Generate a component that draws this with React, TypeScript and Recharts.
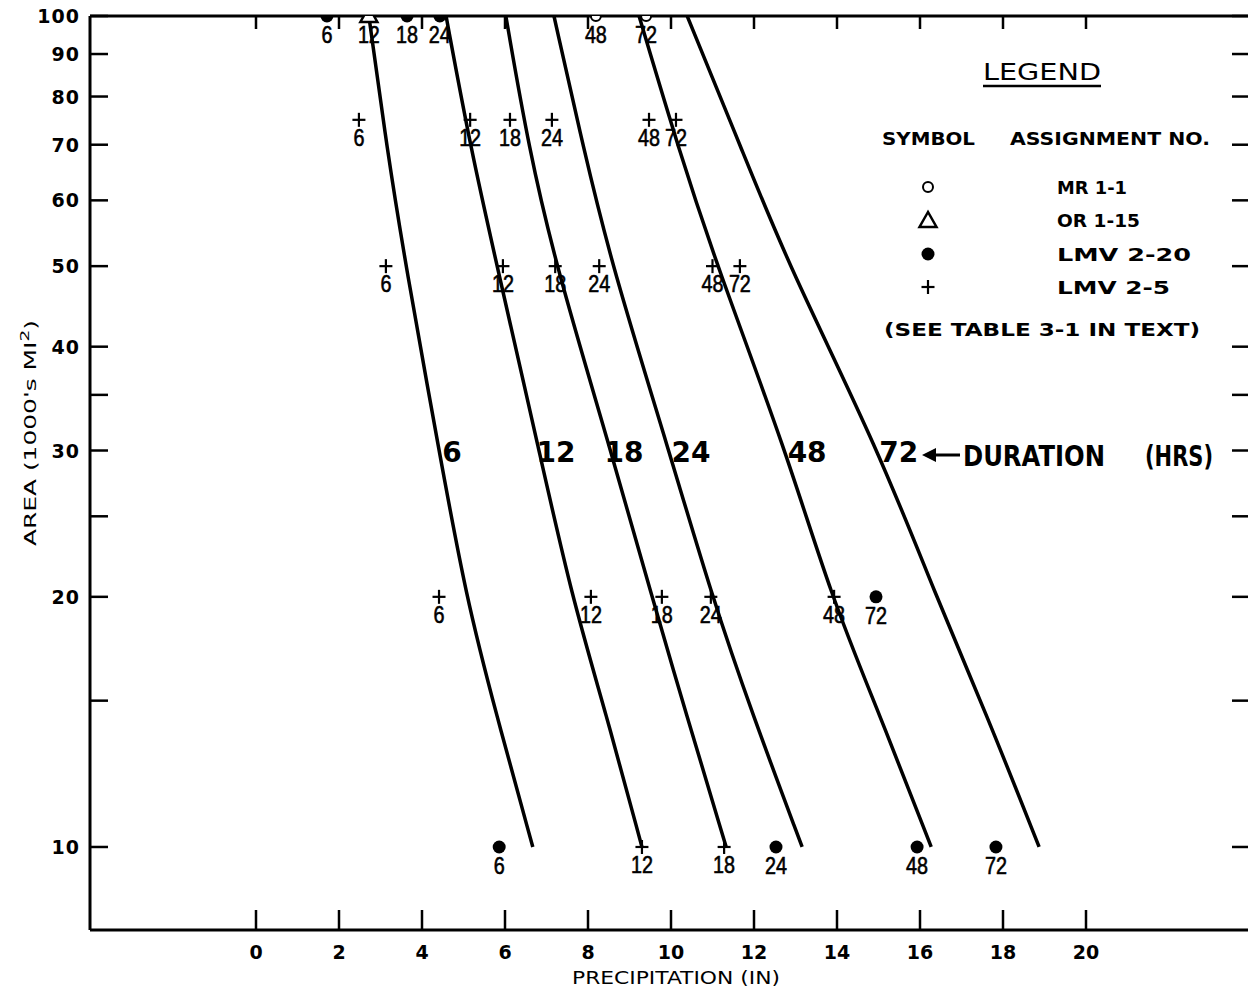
import React from 'react';
import { ComposedChart, Line, Scatter, XAxis, YAxis } from 'recharts';

const FONT = '"DejaVu Sans", Verdana, sans-serif';
const NARROW = '"Liberation Sans", Arial, sans-serif';

// depth-area curves, read at these areas (1000's sq mi)
const curveAreas = [100, 69, 50, 30, 20, 14.5, 10];
const curve6 = [2.72, 3.16, 3.61, 4.41, 5.06, 5.78, 6.67];
const curve12 = [4.58, 5.18, 5.81, 6.82, 7.61, 8.43, 9.3];
const curve18 = [6.02, 6.58, 7.23, 8.55, 9.54, 10.36, 11.33];
const curve24 = [7.18, 7.9, 8.58, 9.95, 10.99, 11.95, 13.16];
const curve48 = [9.23, 10.19, 11.11, 12.77, 13.86, 15.01, 16.27];
const curve72 = [10.39, 11.71, 12.84, 15.01, 16.39, 17.59, 18.87];
const curves = [curve6, curve12, curve18, curve24, curve48, curve72];

// duration labels sit on the 30,000 sq mi line
const durations = ['6', '12', '18', '24', '48', '72'];
const durationLabelArea = 30;
const durationLabelX = [4.72, 7.23, 8.87, 10.48, 13.28, 15.49];

// observed storms
const mrArea = [100, 100];
const mrPrecip = [8.19, 9.4];
const mrLabels = ['48', '72'];

const orArea = [100];
const orPrecip = [2.72];
const orLabels = ['12'];

const lmv20Area = [100, 100, 100, 20, 10, 10, 10, 10];
const lmv20Precip = [1.71, 3.64, 4.43, 14.94, 5.86, 12.53, 15.93, 17.83];
const lmv20Labels = ['6', '18', '24', '72', '6', '24', '48', '72'];

const lmv5Area = [75, 75, 75, 75, 75, 75, 50, 50, 50, 50, 50, 50, 20, 20, 20, 20, 20, 10, 10];
const lmv5Precip = [2.48, 5.16, 6.12, 7.13, 9.47, 10.12, 3.13, 5.95, 7.21, 8.27, 11.0, 11.66, 4.41, 8.07, 9.78, 10.96, 13.93, 9.3, 11.28];
const lmv5Labels = ['6', '12', '18', '24', '48', '72', '6', '12', '18', '24', '48', '72', '6', '12', '18', '24', '48', '12', '18'];

const xTicks = [0, 2, 4, 6, 8, 10, 12, 14, 16, 18, 20];
const yTicks = [10, 15, 20, 25, 30, 35, 40, 50, 60, 70, 80, 90, 100];
const yLabelled = [10, 20, 30, 40, 50, 60, 70, 80, 90, 100];

const toPoints = (areas: number[], precip: number[], labels?: string[]) =>
  areas.map((a, i) => ({ x: precip[i], y: a, label: labels ? labels[i] : '' }));

const BottomTick = (props: any) => {
  const { x, y, payload } = props;
  return (
    <g>
      <line x1={x} x2={x} y1={y} y2={y - 20} stroke="#000" strokeWidth={2.5} />
      <text x={x} y={y + 29} textAnchor="middle" fontSize={19} fontWeight="bold" fontFamily={FONT} fill="#000">
        {payload.value}
      </text>
    </g>
  );
};

const TopTick = (props: any) => {
  const { x, y } = props;
  return <line x1={x} x2={x} y1={y} y2={y + 13} stroke="#000" strokeWidth={2.5} />;
};

const LeftTick = (props: any) => {
  const { x, y, payload } = props;
  return (
    <g>
      <line x1={x} x2={x + 18} y1={y} y2={y} stroke="#000" strokeWidth={2.5} />
      {yLabelled.includes(payload.value) && (
        <text
          x={x - 10}
          y={y + 7}
          textAnchor="end"
          fontSize={19}
          fontWeight="bold"
          letterSpacing={1}
          fontFamily={FONT}
          fill="#000"
        >
          {payload.value}
        </text>
      )}
    </g>
  );
};

const RightTick = (props: any) => {
  const { x, y } = props;
  return <line x1={x} x2={x - 20} y1={y} y2={y} stroke="#000" strokeWidth={2.5} />;
};

const pointLabel = (cx: number, cy: number, label: string) => (
  <text
    x={cx}
    y={cy + 27}
    textAnchor="middle"
    fontSize={23}
    fontFamily={NARROW}
    stroke="#000"
    strokeWidth={0.6}
    textLength={label.length * 11}
    lengthAdjust="spacingAndGlyphs"
    fill="#000"
  >
    {label}
  </text>
);

const OpenCircle = (props: any) => {
  const { cx, cy, payload } = props;
  return (
    <g>
      <circle cx={cx} cy={cy} r={5} fill="#fff" stroke="#000" strokeWidth={2} />
      {pointLabel(cx, cy, payload.label)}
    </g>
  );
};

const Triangle = (props: any) => {
  const { cx, cy, payload } = props;
  return (
    <g>
      <polygon
        points={`${cx},${cy - 9} ${cx - 8.5},${cy + 6} ${cx + 8.5},${cy + 6}`}
        fill="#fff"
        stroke="#000"
        strokeWidth={2.5}
      />
      {pointLabel(cx, cy, payload.label)}
    </g>
  );
};

const Dot = (props: any) => {
  const { cx, cy, payload } = props;
  return (
    <g>
      <circle cx={cx} cy={cy} r={6.5} fill="#000" />
      {pointLabel(cx, cy, payload.label)}
    </g>
  );
};

const Plus = (props: any) => {
  const { cx, cy, payload } = props;
  return (
    <g>
      <line x1={cx - 6.5} x2={cx + 6.5} y1={cy} y2={cy} stroke="#000" strokeWidth={2.2} />
      <line x1={cx} x2={cx} y1={cy - 7} y2={cy + 7} stroke="#000" strokeWidth={2.2} />
      {pointLabel(cx, cy - 1, payload.label)}
    </g>
  );
};

const DurationText = (props: any) => {
  const { cx, cy, payload } = props;
  return (
    <text x={cx} y={cy + 11} textAnchor="middle" fontSize={28} fontWeight="bold" fontFamily={FONT} fill="#000">
      {payload.label}
    </text>
  );
};

const Overlay = () => (
  <svg
    width={1248}
    height={992}
    style={{ position: 'absolute', left: 0, top: 0, pointerEvents: 'none' }}
    fontFamily={FONT}
    fill="#000"
  >
    {/* axis titles */}
    <text
      transform="translate(36,433) rotate(-90)"
      textAnchor="middle"
      fontSize={16}
      textLength={226}
      lengthAdjust="spacingAndGlyphs"
    >
      AREA (1000's MI<tspan dy={-7} fontSize={12}>2</tspan>
      <tspan dy={7}>)</tspan>
    </text>
    <text x={676} y={984} textAnchor="middle" fontSize={17} textLength={208} lengthAdjust="spacingAndGlyphs">
      PRECIPITATION (IN)
    </text>

    {/* legend */}
    <g fontWeight="bold">
      <text x={1042} y={80} textAnchor="middle" fontSize={23} fontWeight="normal" textLength={118} lengthAdjust="spacingAndGlyphs">
        LEGEND
      </text>
      <line x1={983} x2={1101} y1={86} y2={86} stroke="#000" strokeWidth={2.5} />
      <text x={882} y={145} fontSize={18} textLength={93} lengthAdjust="spacingAndGlyphs">SYMBOL</text>
      <text x={1010} y={145} fontSize={18} textLength={200} lengthAdjust="spacingAndGlyphs">ASSIGNMENT NO.</text>

      <circle cx={928} cy={187} r={5} fill="#fff" stroke="#000" strokeWidth={2} />
      <polygon points="928,212 919.5,227 936.5,227" fill="#fff" stroke="#000" strokeWidth={2.5} />
      <circle cx={928} cy={254} r={6.5} />
      <line x1={921.5} x2={934.5} y1={287} y2={287} stroke="#000" strokeWidth={2.2} />
      <line x1={928} x2={928} y1={280} y2={294} stroke="#000" strokeWidth={2.2} />

      <text x={1057} y={194} fontSize={18} textLength={70} lengthAdjust="spacingAndGlyphs">MR 1-1</text>
      <text x={1057} y={227} fontSize={18} textLength={83} lengthAdjust="spacingAndGlyphs">OR 1-15</text>
      <text x={1057} y={261} fontSize={18} textLength={134} lengthAdjust="spacingAndGlyphs">LMV 2-20</text>
      <text x={1057} y={294} fontSize={18} textLength={113} lengthAdjust="spacingAndGlyphs">LMV 2-5</text>
      <text x={884} y={336} fontSize={18} textLength={316} lengthAdjust="spacingAndGlyphs">
        (SEE TABLE 3-1 IN TEXT)
      </text>
    </g>

    {/* duration pointer */}
    <line x1={932} x2={960} y1={455} y2={455} stroke="#000" strokeWidth={3} />
    <polygon points="922,455 936,448 936,462" />
    <text x={963} y={466} fontSize={28} fontWeight="bold" textLength={142} lengthAdjust="spacingAndGlyphs">
      DURATION
    </text>
    <text x={1145} y={466} fontSize={28} fontWeight="bold" textLength={68} lengthAdjust="spacingAndGlyphs">
      (HRS)
    </text>
  </svg>
);

export default function App() {
  const durationPoints = durationLabelX.map((x, i) => ({ x, y: durationLabelArea, label: durations[i] }));

  return (
    <div
      style={{
        position: 'fixed',
        left: 0,
        top: 0,
        width: 1248,
        height: 992,
        overflow: 'hidden',
        background: '#fff',
      }}
    >
      <ComposedChart width={1269} height={992} margin={{ top: 0, right: 0, bottom: 0, left: 0 }}>
        <XAxis
          dataKey="x"
          type="number"
          domain={[-4, 24]}
          ticks={xTicks}
          interval={0}
          height={62}
          tickSize={0}
          tickMargin={0}
          tickLine={false}
          tick={<BottomTick />}
          axisLine={{ stroke: '#000', strokeWidth: 3 }}
          allowDataOverflow
        />
        <XAxis
          xAxisId="top"
          orientation="top"
          dataKey="x"
          type="number"
          domain={[-4, 24]}
          ticks={xTicks}
          interval={0}
          height={16}
          tickSize={0}
          tickMargin={0}
          tickLine={false}
          tick={<TopTick />}
          axisLine={{ stroke: '#000', strokeWidth: 3 }}
          allowDataOverflow
        />
        <YAxis
          dataKey="y"
          type="number"
          scale="log"
          domain={[7.945, 100]}
          ticks={yTicks}
          interval={0}
          width={90}
          tickSize={0}
          tickMargin={0}
          tickLine={false}
          tick={<LeftTick />}
          axisLine={{ stroke: '#000', strokeWidth: 3 }}
          allowDataOverflow
        />
        <YAxis
          yAxisId="right"
          orientation="right"
          dataKey="y"
          type="number"
          scale="log"
          domain={[7.945, 100]}
          ticks={yTicks}
          interval={0}
          width={17}
          tickSize={0}
          tickMargin={0}
          tickLine={false}
          tick={<RightTick />}
          axisLine={{ stroke: '#000', strokeWidth: 3 }}
          allowDataOverflow
        />

        {curves.map((c, i) => (
          <Line
            key={durations[i]}
            data={toPoints(curveAreas, c)}
            dataKey="y"
            type="basis"
            stroke="#000"
            strokeWidth={3.5}
            dot={false}
            activeDot={false}
            isAnimationActive={false}
          />
        ))}

        <Scatter data={toPoints(lmv5Area, lmv5Precip, lmv5Labels)} shape={Plus} isAnimationActive={false} />
        <Scatter data={toPoints(lmv20Area, lmv20Precip, lmv20Labels)} shape={Dot} isAnimationActive={false} />
        <Scatter data={toPoints(orArea, orPrecip, orLabels)} shape={Triangle} isAnimationActive={false} />
        <Scatter data={toPoints(mrArea, mrPrecip, mrLabels)} shape={OpenCircle} isAnimationActive={false} />
        <Scatter data={durationPoints} shape={DurationText} isAnimationActive={false} />
      </ComposedChart>
      <Overlay />
    </div>
  );
}
